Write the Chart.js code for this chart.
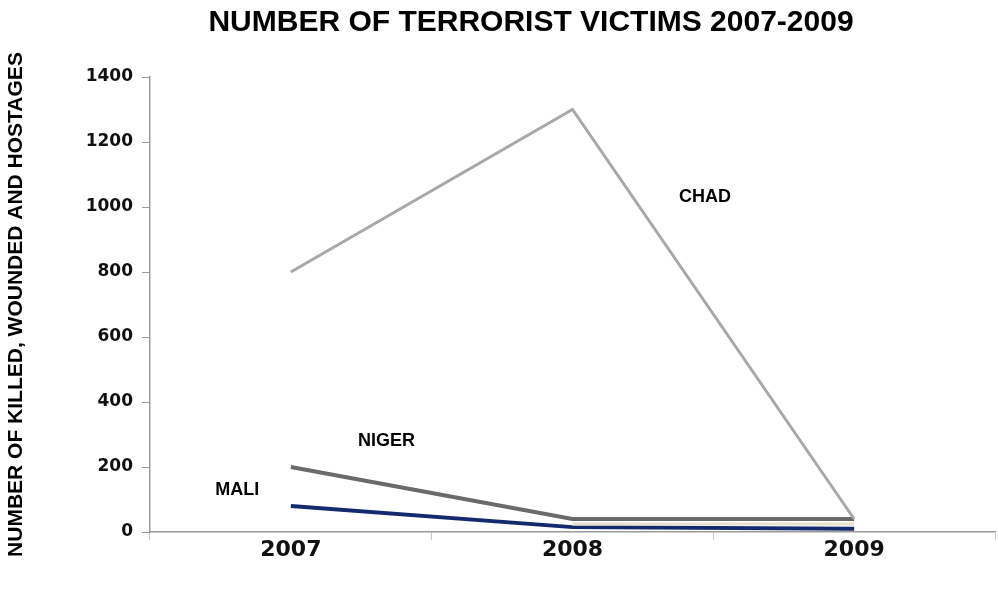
<!DOCTYPE html>
<html>
<head>
<meta charset="utf-8">
<script src="https://cdn.jsdelivr.net/npm/chart.js@4.4.0/dist/chart.umd.min.js"></script>
<style>
  html, body { margin: 0; padding: 0; background: #fff; }
  #wrap { width: 998px; height: 589px; position: relative; }
</style>
</head>
<body>
<div id="wrap"><canvas id="victimsChart"></canvas></div>
<script>
// data
const years = ['2007', '2008', '2009'];
const chad_values = [800, 1300, 40];
const niger_values = [200, 40, 40];
const mali_values = [80, 15, 10];
const other_values = [null, 25, 25];
const y_ticks = [0, 200, 400, 600, 800, 1000, 1200, 1400];

const chart_title = 'NUMBER OF TERRORIST VICTIMS 2007-2009';

// series name labels placed in data units (category index, value)
const label_names = ['CHAD', 'NIGER', 'MALI'];
const label_x = [1.47, 0.34, -0.19];
const label_y = [1030, 280, 128];

const seriesLabels = {
  id: 'seriesLabels',
  afterDatasetsDraw(chart) {
    const ctx = chart.ctx;
    const xs = chart.scales.x;
    const ys = chart.scales.y;
    ctx.save();
    ctx.fillStyle = '#000';
    ctx.textAlign = 'center';
    ctx.textBaseline = 'middle';
    ctx.font = 'bold 18px "Liberation Sans", Arial, sans-serif';
    label_names.forEach((name, i) => {
      ctx.fillText(name, xs.getPixelForValue(label_x[i]), ys.getPixelForValue(label_y[i]));
    });
    // title sits a bit left of the plot centre, like the original
    ctx.font = 'bold 30px "Liberation Sans", Arial, sans-serif';
    ctx.fillText(chart_title, (chart.width + chart.chartArea.left) / 2 - 43, 23);
    ctx.restore();
  }
};

const ctx = document.getElementById('victimsChart').getContext('2d');

new Chart(ctx, {
  type: 'line',
  data: {
    labels: years,
    datasets: [
      {
        label: 'CHAD',
        data: chad_values,
        borderColor: '#a8a8a8',
        borderWidth: 3,
        pointRadius: 0,
        tension: 0
      },
      {
        label: 'OTHER',
        data: other_values,
        borderColor: '#e8e2cc',
        borderWidth: 3,
        pointRadius: 0,
        tension: 0
      },
      {
        label: 'NIGER',
        data: niger_values,
        borderColor: '#6a6a6a',
        borderWidth: 4,
        pointRadius: 0,
        tension: 0
      },
      {
        label: 'MALI',
        data: mali_values,
        borderColor: '#15296e',
        borderWidth: 4,
        pointRadius: 0,
        tension: 0
      }
    ]
  },
  options: {
    responsive: true,
    maintainAspectRatio: false,
    animation: false,
    layout: { padding: { left: 0, right: 3, top: 77, bottom: 0 } },
    plugins: {
      legend: { display: false },
      tooltip: { enabled: false },
      title: { display: false }
    },
    scales: {
      x: {
        type: 'category',
        offset: true,
        grid: {
          display: true,
          offset: true,
          drawOnChartArea: false,
          drawTicks: true,
          tickLength: 8,
          color: '#c8c8c8'
        },
        border: { display: true, color: '#9a9a9a', width: 1.5 },
        ticks: {
          color: '#111',
          font: { family: '"DejaVu Sans", Verdana, sans-serif', size: 22, weight: 'bold' },
          padding: -3
        },
        afterFit(scale) { scale.height = 57; }
      },
      y: {
        min: 0,
        max: 1400,
        afterBuildTicks(scale) { scale.ticks = y_ticks.map(v => ({ value: v })); },
        grid: {
          display: true,
          drawOnChartArea: false,
          drawTicks: true,
          tickLength: 8,
          color: '#9a9a9a'
        },
        border: { display: true, color: '#9a9a9a', width: 1.5 },
        ticks: {
          color: '#111',
          font: { family: '"DejaVu Sans", Verdana, sans-serif', size: 17, weight: 'bold' },
          padding: 9,
          callback: v => String(v)
        },
        title: {
          display: true,
          text: 'NUMBER OF KILLED, WOUNDED AND HOSTAGES',
          color: '#000',
          font: { family: '"Liberation Sans", Arial, sans-serif', size: 21, weight: 'bold' },
          padding: { top: 4, bottom: 0 }
        },
        afterFit(scale) { scale.width = 150; }
      }
    }
  },
  plugins: [seriesLabels]
});
</script>
</body>
</html>
